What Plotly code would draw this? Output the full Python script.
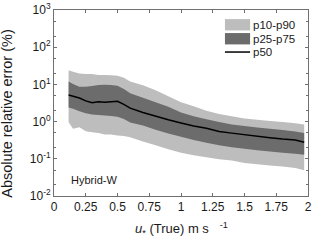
import plotly.graph_objects as go

u_true = [0.115, 0.15, 0.2, 0.25, 0.3, 0.35, 0.4, 0.45, 0.5, 0.55, 0.6, 0.7, 0.8, 0.9,
          1.0, 1.1, 1.2, 1.3, 1.4, 1.5, 1.6, 1.7, 1.8, 1.9, 1.97]
p50 = [5.2, 4.8, 4.3, 3.6, 3.2, 3.4, 3.3, 3.4, 3.5, 2.9, 2.3, 1.75, 1.38, 1.12,
       0.92, 0.76, 0.66, 0.54, 0.49, 0.44, 0.40, 0.37, 0.34, 0.32, 0.28]
p90 = [24, 22, 19.5, 19, 19, 18, 18, 17.5, 17, 15, 12, 9.5, 7, 4.8,
       3.3, 2.6, 1.95, 1.6, 1.4, 1.22, 1.12, 1.04, 0.97, 0.9, 0.83]
p75 = [12, 10.2, 8.7, 8.7, 9, 9.6, 9.8, 9.6, 9.2, 7.5, 5.8, 4.4, 3.3, 2.5,
       1.75, 1.4, 1.15, 0.98, 0.83, 0.76, 0.69, 0.64, 0.59, 0.54, 0.49]
p25 = [2.4, 2.2, 1.9, 1.67, 1.54, 1.5, 1.45, 1.42, 1.36, 1.18, 0.95, 0.78, 0.6, 0.48,
       0.39, 0.32, 0.27, 0.23, 0.205, 0.185, 0.17, 0.158, 0.145, 0.136, 0.128]
p10 = [0.96, 0.64, 0.71, 0.55, 0.52, 0.49, 0.45, 0.45, 0.42, 0.41, 0.38, 0.29, 0.23, 0.18,
       0.145, 0.125, 0.11, 0.098, 0.09, 0.077, 0.071, 0.066, 0.062, 0.057, 0.049]

x_ticks = [0, 0.25, 0.5, 0.75, 1, 1.25, 1.5, 1.75, 2]
x_tick_labels = ["0", "0.25", "0.5", "0.75", "1", "1.25", "1.5", "1.75", "2"]
y_ticks = [0.01, 0.1, 1, 10, 100, 1000]
y_tick_labels = ["10<sup>-2</sup>", "10<sup>-1</sup>", "10<sup>0</sup>",
                 "10<sup>1</sup>", "10<sup>2</sup>", "10<sup>3</sup>"]
legend_labels = ["p10-p90", "p25-p75", "p50"]

LIGHT = "#bdbdbd"
DARK = "#6c6c6c"
TXT = "#1a1a1a"
AX = "#707070"
FONT = "Liberation Sans, Arial, sans-serif"

fig = go.Figure()
fig.add_trace(go.Scatter(
    x=u_true + u_true[::-1], y=p90 + p10[::-1], fill="toself", mode="none",
    fillcolor=LIGHT, name=legend_labels[0], showlegend=False, hoverinfo="skip"))
fig.add_trace(go.Scatter(
    x=u_true + u_true[::-1], y=p75 + p25[::-1], fill="toself", mode="none",
    fillcolor=DARK, name=legend_labels[1], showlegend=False, hoverinfo="skip"))
fig.add_trace(go.Scatter(
    x=u_true, y=p50, mode="lines", line=dict(color="black", width=1.5),
    name=legend_labels[2], showlegend=False, hoverinfo="skip"))

axis_common = dict(showline=True, linecolor=AX, linewidth=1, mirror="allticks",
                   ticks="inside", tickcolor=AX, ticklen=3, showgrid=False,
                   zeroline=False, automargin=False,
                   tickfont=dict(family=FONT, size=12, color=TXT))

fig.update_xaxes(range=[0, 2], tickvals=x_ticks, ticktext=x_tick_labels, **axis_common)
fig.update_yaxes(type="log", range=[-2, 3], tickvals=y_ticks, ticktext=y_tick_labels,
                 minor=dict(ticks="inside", ticklen=2, tickcolor=AX, showgrid=False),
                 **axis_common)

# axis titles
fig.add_annotation(x=0.5, y=-0.175, xref="paper", yref="paper", xanchor="center",
                   yanchor="middle", showarrow=False,
                   text="<i>u</i><sub>*</sub> (True) m s&#160;&#160;&#160;<sup>-1</sup>",
                   font=dict(family=FONT, size=13, color=TXT))
fig.add_annotation(x=-0.183, y=0.44, xref="paper", yref="paper", xanchor="center",
                   yanchor="middle", showarrow=False, textangle=-90,
                   text="Absolute relative error (%)",
                   font=dict(family=FONT, size=14.5, color=TXT))

# in-plot label
fig.add_annotation(x=0.06, y=0.086, xref="paper", yref="paper", xanchor="left",
                   yanchor="middle", text="Hybrid-W", showarrow=False,
                   font=dict(family=FONT, size=11, color=TXT))

# manual legend
lx0, lx1 = 0.673, 0.772
fig.add_shape(type="rect", xref="paper", yref="paper", x0=lx0, x1=lx1, y0=0.89, y1=0.951,
              fillcolor=LIGHT, line=dict(width=0))
fig.add_shape(type="rect", xref="paper", yref="paper", x0=lx0, x1=lx1, y0=0.815, y1=0.876,
              fillcolor=DARK, line=dict(width=0))
fig.add_shape(type="line", xref="paper", yref="paper", x0=lx0, x1=lx1, y0=0.774, y1=0.774,
              line=dict(color="black", width=1.5))
for lbl, yy in zip(legend_labels, [0.921, 0.846, 0.774]):
    fig.add_annotation(x=0.775, y=yy, xref="paper", yref="paper", xanchor="left",
                       yanchor="middle", text=lbl, showarrow=False,
                       font=dict(family=FONT, size=11.5, color=TXT))

fig.update_layout(
    width=312, height=242, margin=dict(l=54, r=4, t=10, b=46),
    paper_bgcolor="white", plot_bgcolor="white",
    showlegend=False, hovermode=False,
)

fig.write_html("out.html", config={"displayModeBar": False, "staticPlot": True},
               post_script="document.body.style.margin='0';document.body.style.overflow='hidden';")
